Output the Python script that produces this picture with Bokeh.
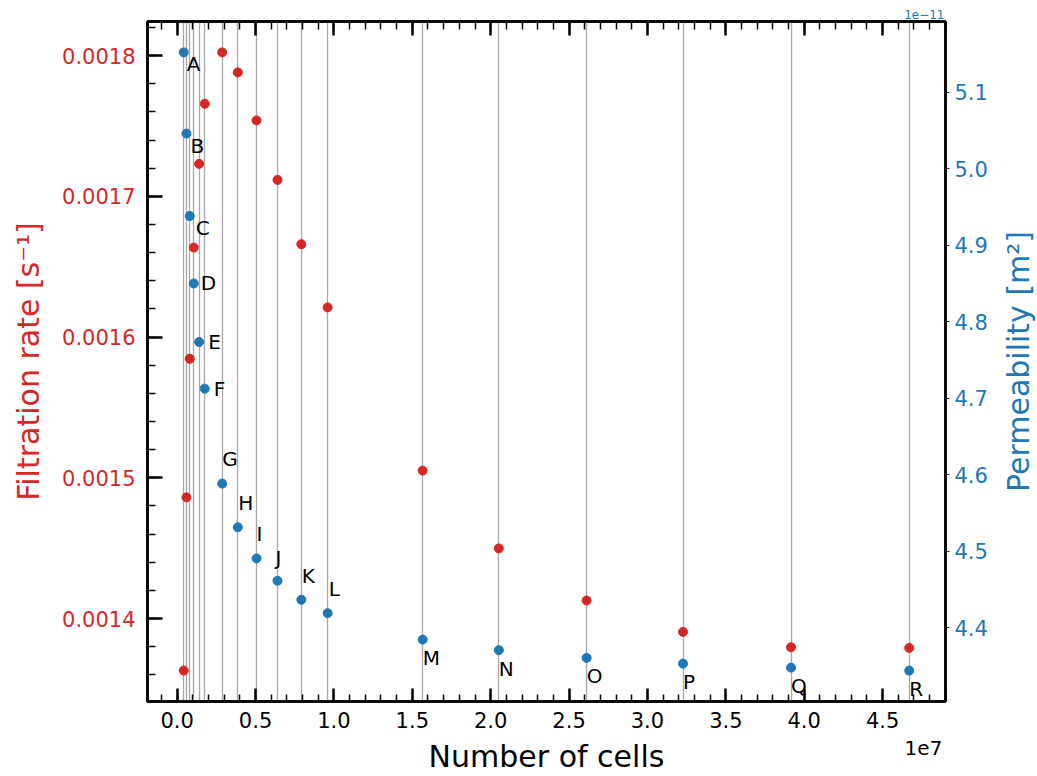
import math
from bokeh.plotting import figure
from bokeh.models import Range1d, LinearAxis, FixedTicker, Label, ColumnDataSource
from bokeh.core.properties import value
from bokeh.embed import file_html
from bokeh.resources import INLINE

# ---------------- data ----------------
case_labels = list("ABCDEFGHIJKLMNOPQR")
cells = [4.2e5, 5.9e5, 8.0e5, 1.06e6, 1.40e6, 1.76e6, 2.87e6, 3.87e6, 5.06e6,
         6.40e6, 7.92e6, 9.60e6, 1.566e7, 2.052e7, 2.612e7, 3.227e7, 3.916e7, 4.670e7]
filtration_rate = [0.001363, 0.0014861, 0.0015846, 0.0016636, 0.0017231, 0.0017658,
                   0.0018023, 0.0017881, 0.0017540, 0.0017117, 0.0016660, 0.0016211,
                   0.0015051, 0.0014498, 0.0014128, 0.0013905, 0.0013796, 0.0013791]
# permeability in units of 1e-11 m^2
permeability_e11 = [5.1519, 5.0458, 4.9380, 4.8498, 4.7733, 4.7123, 4.5882, 4.5310,
                    4.4904, 4.4611, 4.4363, 4.4188, 4.3842, 4.3704, 4.3603, 4.3528,
                    4.3476, 4.3437]

x_ticks = [0.0, 0.5e7, 1.0e7, 1.5e7, 2.0e7, 2.5e7, 3.0e7, 3.5e7, 4.0e7, 4.5e7]
x_tick_labels = ["0.0", "0.5", "1.0", "1.5", "2.0", "2.5", "3.0", "3.5", "4.0", "4.5"]
left_ticks = [0.0014, 0.0015, 0.0016, 0.0017, 0.0018]
left_tick_labels = ["0.0014", "0.0015", "0.0016", "0.0017", "0.0018"]
right_ticks = [4.4, 4.5, 4.6, 4.7, 4.8, 4.9, 5.0, 5.1]
right_tick_labels = ["4.4", "4.5", "4.6", "4.7", "4.8", "4.9", "5.0", "5.1"]

# ---------------- styling ----------------
RED = "#d62728"
BLUE = "#1f77b4"
FONT = "DejaVu Sans"
W, H = 1037, 776
BORDER_L, BORDER_R, BORDER_T, BORDER_B = 147, 92, 21, 75
FRAME_W = W - BORDER_L - BORDER_R

# label offsets (screen px, y downwards) of the letter centre from its point
label_dx = [3, 4, 6, 7, 9, 9, 0, 0.5, 0, -2, 0.5, 1, 0, 0, 0, 0, 0, 0]
label_dy = [12, 12, 12, 0, 0, 0, -24.5, -24.5, -24.5, -22.5, -24, -24, 18.5, 18.5, 18.5, 18.5, 18.5, 18.5]


def padded(vals, frac=0.05):
    lo, hi = min(vals), max(vals)
    pad = (hi - lo) * frac
    return lo - pad, hi + pad


x0, x1 = padded(cells)
yl0, yl1 = padded(filtration_rate)
yr0, yr1 = padded(permeability_e11)

p = figure(width=W, height=H, output_backend="svg", toolbar_location=None,
           x_range=Range1d(x0, x1), y_range=Range1d(yl0, yl1),
           min_border_left=BORDER_L, min_border_right=BORDER_R, min_border_top=BORDER_T,
           min_border_bottom=BORDER_B)
p.extra_y_ranges = {"perm": Range1d(yr0, yr1)}
p.grid.visible = False
p.outline_line_color = "black"
p.outline_line_width = 2.5
p.background_fill_color = "white"
p.border_fill_color = "white"


def minor_list(start, stop, step):
    out = []
    v = start
    while v <= stop + step * 0.01:
        out.append(round(v, 12))
        v += step
    return out


x_ticker = FixedTicker(ticks=x_ticks, minor_ticks=minor_list(-0.1e7, 4.9e7, 0.1e7))
left_ticker = FixedTicker(ticks=left_ticks, minor_ticks=minor_list(0.00134, 0.00182, 0.00002))
right_ticker = FixedTicker(ticks=right_ticks, minor_ticks=[])


def style_axis(ax):
    ax.axis_line_width = 2.5
    ax.axis_line_color = "black"
    ax.major_tick_line_width = 2.5
    ax.minor_tick_line_width = 1.5
    ax.major_tick_line_color = "black"
    ax.minor_tick_line_color = "black"
    ax.major_label_text_font = FONT
    ax.major_label_text_font_size = "21px"
    ax.axis_label_text_font = FONT
    ax.axis_label_text_font_size = "30px"
    ax.axis_label_text_font_style = "normal"


# bottom axis: ticks and tick labels
xb = p.xaxis[0]
style_axis(xb)
xb.ticker = x_ticker
xb.major_label_overrides = dict(zip(x_ticks, x_tick_labels))
xb.major_tick_in = 13
xb.major_tick_out = 0
xb.minor_tick_in = 7
xb.minor_tick_out = 0
xb.major_label_standoff = 10
xb.axis_label = None
xb.major_label_text_color = "black"

# second bottom strip: offset text "1e7" and the axis title
x_offset_pos = x1 - 22 * (x1 - x0) / FRAME_W
xb2 = LinearAxis(ticker=FixedTicker(ticks=[x_offset_pos], minor_ticks=[]))
style_axis(xb2)
xb2.axis_line_color = None
xb2.major_tick_line_color = None
xb2.minor_tick_line_color = None
xb2.major_tick_in = 0
xb2.major_tick_out = 0
xb2.minor_tick_in = 0
xb2.minor_tick_out = 0
xb2.major_label_standoff = 10
xb2.major_label_text_font_size = "20px"
xb2.major_label_text_color = "black"
xb2.major_label_overrides = {x_offset_pos: "1e7"}
xb2.axis_label = "Number of cells"
xb2.axis_label_standoff = -19
xb2.axis_label_text_color = "black"
p.add_layout(xb2, "below")

# top axis (ticks only)
xt = LinearAxis(ticker=x_ticker)
style_axis(xt)
xt.major_tick_in = 14
xt.major_tick_out = 0
xt.minor_tick_in = 8
xt.minor_tick_out = 0
xt.major_label_text_color = None
xt.major_label_text_font_size = "1px"
xt.major_label_standoff = 0
p.add_layout(xt, "above")

# left axis
yl = p.yaxis[0]
style_axis(yl)
yl.ticker = left_ticker
yl.major_label_overrides = dict(zip(left_ticks, left_tick_labels))
yl.major_tick_in = 15
yl.major_tick_out = 0
yl.minor_tick_in = 8
yl.minor_tick_out = 0
yl.major_label_standoff = 12
yl.major_label_text_color = RED
yl.axis_label = "Filtration rate [s\u207b\u00b9]"
yl.axis_label_text_color = RED
yl.axis_label_standoff = 13

# right axis
yr = LinearAxis(y_range_name="perm", ticker=right_ticker)
style_axis(yr)
yr.major_label_overrides = dict(zip(right_ticks, right_tick_labels))
yr.major_tick_in = 0
yr.major_tick_out = 4
yr.major_tick_line_width = 1.2
yr.major_tick_line_color = "#333333"
yr.major_label_standoff = 5
yr.major_label_text_color = BLUE
yr.axis_label = None
p.add_layout(yr, "right")

# right axis title, reading bottom-to-top like matplotlib's twin axis label
p.add_layout(Label(x=28, y=(yr0 + yr1) / 2, x_units="screen", y_range_name="perm",
                   text="Permeability [m\u00b2]", angle=math.pi / 2,
                   text_align="center", text_baseline="middle", text_font=FONT,
                   text_font_size="30px", text_color=BLUE), "right")

# vertical guide lines
p.vspan(x=cells, line_color="#a8a8a8", line_width=1.3)

# points
p.scatter(cells, filtration_rate, size=9, fill_color=RED, line_color=RED)
p.scatter(cells, permeability_e11, size=9, fill_color=BLUE, line_color=BLUE,
          y_range_name="perm")

src = ColumnDataSource(dict(x=cells, y=permeability_e11, t=case_labels,
                            dx=label_dx, dy=label_dy))
p.text(x="x", y="y", text="t", x_offset="dx", y_offset="dy", source=src,
       y_range_name="perm", text_font=value(FONT), text_font_size="20px",
       text_color="black", text_baseline="middle", text_align="left")

# offset text of the permeability axis
p.add_layout(Label(x=x1, y=yr1, y_range_name="perm", text="1e\u221211", text_align="right",
                   text_baseline="middle", x_offset=-1, y_offset=7, text_font=FONT,
                   text_font_size="12px", text_color=BLUE), "above")

open("out.html", "w").write(file_html(p, INLINE))
